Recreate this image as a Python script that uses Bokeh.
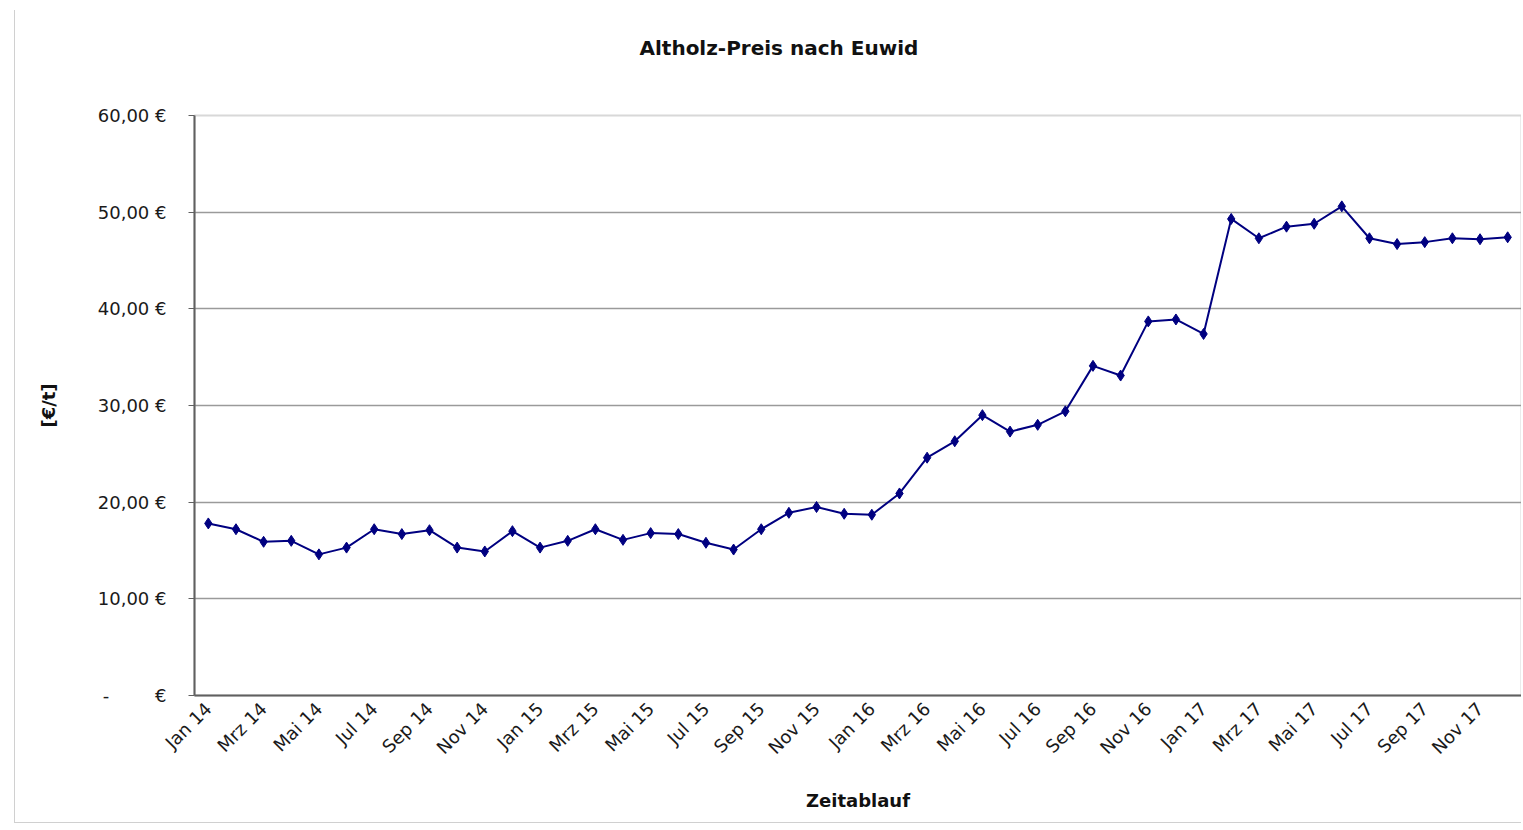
from bokeh.plotting import figure
from bokeh.models import ColumnDataSource, FixedTicker, Range1d, Title
from bokeh.embed import file_html
from bokeh.resources import INLINE

months = [
    "Jan 14", "Feb 14", "Mrz 14", "Apr 14", "Mai 14", "Jun 14", "Jul 14", "Aug 14", "Sep 14", "Okt 14", "Nov 14", "Dez 14",
    "Jan 15", "Feb 15", "Mrz 15", "Apr 15", "Mai 15", "Jun 15", "Jul 15", "Aug 15", "Sep 15", "Okt 15", "Nov 15", "Dez 15",
    "Jan 16", "Feb 16", "Mrz 16", "Apr 16", "Mai 16", "Jun 16", "Jul 16", "Aug 16", "Sep 16", "Okt 16", "Nov 16", "Dez 16",
    "Jan 17", "Feb 17", "Mrz 17", "Apr 17", "Mai 17", "Jun 17", "Jul 17", "Aug 17", "Sep 17", "Okt 17", "Nov 17", "Dez 17",
]
prices = [
    17.8, 17.2, 15.9, 16.0, 14.6, 15.3, 17.2, 16.7, 17.1, 15.3, 14.9, 17.0,
    15.3, 16.0, 17.2, 16.1, 16.8, 16.7, 15.8, 15.1, 17.2, 18.9, 19.5, 18.8,
    18.7, 20.9, 24.6, 26.3, 29.0, 27.3, 28.0, 29.4, 34.1, 33.1, 38.7, 38.9,
    37.4, 49.3, 47.3, 48.5, 48.8, 50.6, 47.3, 46.7, 46.9, 47.3, 47.2, 47.4,
]
y_ticks = [0, 10, 20, 30, 40, 50, 60]
y_tick_labels = ["-\u00a0\u00a0\u00a0\u00a0\u00a0\u00a0\u00a0\u00a0€", "10,00 €", "20,00 €", "30,00 €", "40,00 €", "50,00 €", "60,00 €"]
title_text = "Altholz-Preis nach Euwid"
x_label = "Zeitablauf"
y_label = "[€/t]"

idx = list(range(len(months)))
src = ColumnDataSource(dict(x=idx, y=prices, m=months))

FONT = "DejaVu Sans"

p = figure(width=1507, height=813, output_backend="svg", toolbar_location=None,
           x_range=Range1d(-0.5, len(months) - 0.5), y_range=Range1d(0, 60),
           min_border_left=179, min_border_right=1, min_border_top=105, min_border_bottom=128)
p.margin = (10, 0, 0, 14)
p.styles = {"border-left": "1px solid #d0d0d0", "border-bottom": "1px solid #d0d0d0"}

# spacer between plot area and title (keeps the title high above the frame)
p.add_layout(Title(text="\u00a0", text_font_size="10px", standoff=38, text_color="white"), "above")
p.add_layout(Title(text=title_text, align="left", offset=445, standoff=10,
                   text_font=FONT, text_font_size="20px", text_font_style="bold",
                   text_color="#111111"), "above")

p.line("x", "y", source=src, line_color="#000080", line_width=2)
p.scatter("x", "y", source=src, marker="diamond", size=11, fill_color="#000080", line_color="#000080")

# axes
p.xaxis.ticker = FixedTicker(ticks=idx[::2])
p.xaxis.major_label_overrides = {i: months[i] for i in idx[::2]}
p.xaxis.major_label_orientation = 0.785
p.xaxis.major_tick_out = 0
p.xaxis.major_tick_in = 0
p.xaxis.minor_tick_out = 0
p.xaxis.minor_tick_in = 0
p.xaxis.major_label_standoff = 10
p.xaxis.axis_label = x_label
p.xaxis.axis_label_standoff = 22

p.yaxis.ticker = FixedTicker(ticks=y_ticks)
p.yaxis.major_label_overrides = {t: l for t, l in zip(y_ticks, y_tick_labels)}
p.yaxis.major_tick_out = 6
p.yaxis.major_tick_in = 0
p.yaxis.minor_tick_out = 0
p.yaxis.minor_tick_in = 0
p.yaxis.major_label_standoff = 22
p.yaxis.axis_label = y_label
p.yaxis.axis_label_standoff = 36

for ax in (p.xaxis, p.yaxis):
    ax.axis_line_color = "#606060"
    ax.axis_line_width = 2
    ax.major_tick_line_color = "#606060"
    ax.major_label_text_font = FONT
    ax.major_label_text_font_size = "18px"
    ax.major_label_text_color = "#1a1a1a"
    ax.axis_label_text_font = FONT
    ax.axis_label_text_font_size = "18px"
    ax.axis_label_text_font_style = "bold"
    ax.axis_label_text_color = "#111111"

p.xgrid.grid_line_color = None
p.ygrid.grid_line_color = "#9a9a9a"
p.ygrid.grid_line_width = 1.5
p.outline_line_color = "#d8d8d8"
p.outline_line_width = 2
p.background_fill_color = "white"
p.border_fill_color = "white"

open("out.html", "w").write(file_html(p, INLINE))
